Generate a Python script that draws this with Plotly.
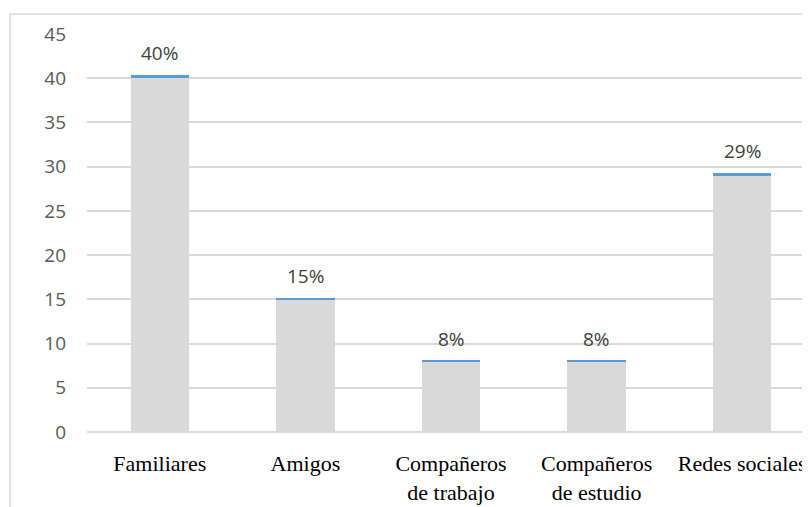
import plotly.graph_objects as go

categories = ["Familiares", "Amigos", "Compañeros<br>de trabajo", "Compañeros<br>de estudio", "Redes sociales"]
counts = [40, 15, 8, 8, 29]
shares = [0.40, 0.15, 0.08, 0.08, 0.29]
y_ticks = [0, 5, 10, 15, 20, 25, 30, 35, 40, 45]

W, H = 810, 507
ml, mr, mt, mb = 79, 3, 26, 83
pw, ph = W - ml - mr, H - mt - mb

fig = go.Figure()
fig.add_trace(go.Bar(x=categories, y=counts, marker=dict(color="#d9d9d9", line=dict(width=0)),
                     hoverinfo="skip", showlegend=False))
fig.add_trace(go.Bar(x=categories, y=shares, marker=dict(color="#5b9bd5", line=dict(width=0)),
                     hoverinfo="skip", showlegend=False))

for c, v, s in zip(categories, counts, shares):
    fig.add_annotation(x=c, y=v + s, text=f"{round(s*100)}%", showarrow=False,
                       yanchor="bottom", yshift=7,
                       font=dict(family="Open Sans", size=19, color="#404040"))

# outer chart frame (page has an 8px body margin)
fig.add_shape(type="rect", xref="paper", yref="paper",
              x0=(2 - ml) / pw, x1=(W + 20 - ml) / pw,
              y0=-(H + 20 - mt - ph) / ph, y1=1 + (mt - 6) / ph,
              line=dict(color="#d9d9d9", width=1.5), layer="below")

fig.update_layout(
    width=W, height=H, barmode="stack", bargap=0.6,
    margin=dict(l=ml, r=mr, t=mt, b=mb, pad=0),
    plot_bgcolor="white", paper_bgcolor="white",
    xaxis=dict(range=[-0.5, 4.5], showgrid=False, zeroline=False, showline=False,
               ticks="", tickfont=dict(family="Liberation Serif", size=22, color="#000000"),
               ticklabelstandoff=16, fixedrange=True),
    yaxis=dict(range=[0, 45], tickvals=y_ticks, showgrid=True, gridcolor="#d9d9d9", gridwidth=1.5,
               zeroline=True, zerolinecolor="#d9d9d9", zerolinewidth=1.5, showline=False,
               ticks="", tickfont=dict(family="Open Sans", size=19, color="#595959"),
               ticklabelstandoff=20, fixedrange=True),
)

fig.write_html("out.html")
